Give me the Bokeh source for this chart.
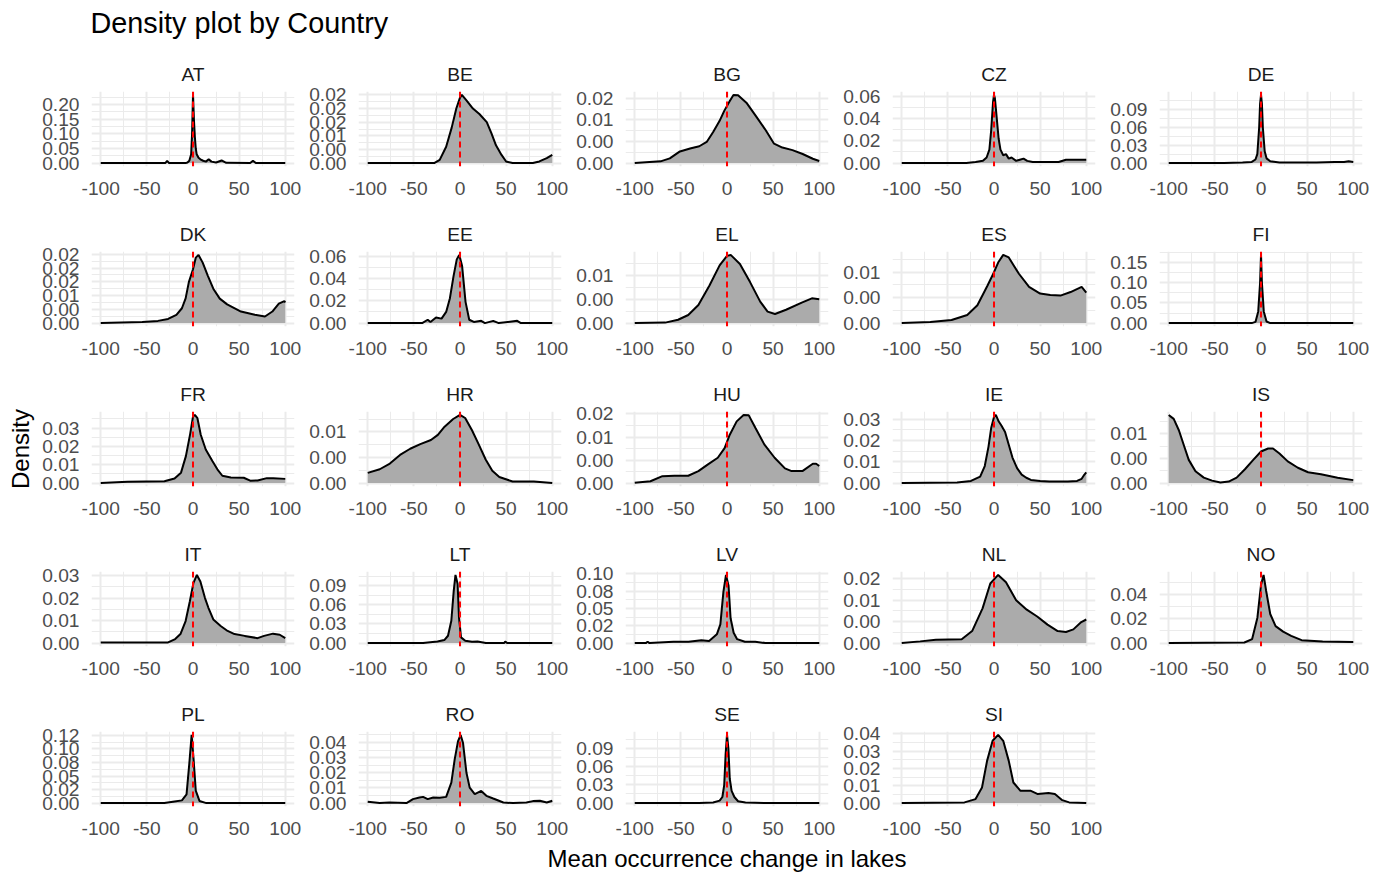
import math
from bokeh.plotting import figure
from bokeh.layouts import column, row
from bokeh.models import Range1d, FixedTicker, Span
from bokeh.core.properties import value
from bokeh.embed import file_html
from bokeh.resources import INLINE

# ---------------- data ----------------
countries = ["AT", "BE", "BG", "CZ", "DE", "DK", "EE", "EL", "ES", "FI", "FR", "HR",
             "HU", "IE", "IS", "IT", "LT", "LV", "NL", "NO", "PL", "RO", "SE", "SI"]

x_ticks = [-100, -50, 0, 50, 100]
x_labels = ["-100", "-50", "0", "50", "100"]
x_minor = [-75, -25, 25, 75]

AT_x = [-100, -30, -28, -26, -8, -6, -4, -2, -1, 0, 1, 2, 3, 4, 6, 8, 11, 14, 17, 20, 25, 31, 36, 62, 65, 68, 100]
AT_y = [0.000, 0.000, 0.008, 0.000, 0.000, 0.002, 0.008, 0.030, 0.100, 0.233, 0.150, 0.090, 0.050, 0.030, 0.018, 0.013, 0.008, 0.005, 0.013, 0.005, 0.002, 0.009, 0.001, 0.000, 0.008, 0.000, 0.000]
AT_yticks = [0.00, 0.05, 0.10, 0.15, 0.20]
AT_ylabels = ["0.00", "0.05", "0.10", "0.15", "0.20"]

BE_x = [-100, -28, -22, -15, -9, -4, 0, 2, 7, 14, 21, 29, 34, 39, 45, 50, 57, 79, 86, 94, 100]
BE_y = [0.0000, 0.0000, 0.0012, 0.0060, 0.0130, 0.0200, 0.0240, 0.0250, 0.0230, 0.0200, 0.0180, 0.0150, 0.0110, 0.0065, 0.0030, 0.0006, 0.0000, 0.0000, 0.0006, 0.0018, 0.0030]
BE_yticks = [0.000, 0.005, 0.010, 0.015, 0.020, 0.025]
BE_ylabels = ["0.00", "0.00", "0.01", "0.02", "0.02", "0.02"]

BG_x = [-100, -72, -62, -51, -40, -30, -22, -15, -8, -3, 3, 7, 12, 21, 31, 42, 51, 60, 71, 82, 93, 100]
BG_y = [0.0000, 0.0004, 0.0011, 0.0027, 0.0034, 0.0039, 0.0049, 0.0072, 0.0098, 0.0121, 0.0144, 0.0158, 0.0157, 0.0140, 0.0110, 0.0076, 0.0045, 0.0036, 0.0030, 0.0021, 0.0010, 0.0005]
BG_yticks = [0.000, 0.005, 0.010, 0.015]
BG_ylabels = ["0.00", "0.00", "0.01", "0.02"]

CZ_x = [-100, -30, -20, -12, -8, -5, -3, -1, 0, 1, 3, 5, 7, 10, 13, 16, 19, 24, 28, 32, 36, 42, 50, 70, 78, 85, 100]
CZ_y = [0.000, 0.000, 0.001, 0.002, 0.005, 0.012, 0.030, 0.055, 0.061, 0.058, 0.040, 0.022, 0.012, 0.007, 0.008, 0.004, 0.005, 0.002, 0.003, 0.004, 0.002, 0.001, 0.001, 0.001, 0.003, 0.003, 0.003]
CZ_yticks = [0.00, 0.02, 0.04, 0.06]
CZ_ylabels = ["0.00", "0.02", "0.04", "0.06"]

DE_x = [-100, -40, -20, -10, -6, -4, -2, -1, 0, 1, 2, 4, 6, 10, 20, 40, 60, 80, 90, 95, 100]
DE_y = [0.000, 0.000, 0.001, 0.002, 0.006, 0.015, 0.060, 0.100, 0.115, 0.100, 0.060, 0.020, 0.008, 0.003, 0.001, 0.001, 0.001, 0.002, 0.002, 0.003, 0.002]
DE_yticks = [0.00, 0.03, 0.06, 0.09]
DE_ylabels = ["0.00", "0.03", "0.06", "0.09"]

DK_x = [-100, -55, -38, -27, -18, -12, -8, -4.5, 0, 3, 6, 10.5, 16, 22, 29, 37, 52, 67, 78, 86, 93, 99, 100]
DK_y = [0.0000, 0.0004, 0.0008, 0.0015, 0.0030, 0.0054, 0.0090, 0.0149, 0.0196, 0.0238, 0.0248, 0.0220, 0.0173, 0.0125, 0.0089, 0.0068, 0.0042, 0.0030, 0.0024, 0.0042, 0.0071, 0.0080, 0.0075]
DK_yticks = [0.000, 0.005, 0.010, 0.015, 0.020, 0.025]
DK_ylabels = ["0.00", "0.00", "0.01", "0.02", "0.02", "0.02"]

EE_x = [-100, -41, -35, -32, -26, -20, -15, -11, -7, -3.5, -0.8, 2.3, 6, 10, 15, 23, 27, 36, 42, 62, 66, 100]
EE_y = [0.000, 0.000, 0.003, 0.001, 0.005, 0.004, 0.010, 0.022, 0.042, 0.057, 0.061, 0.051, 0.019, 0.003, 0.001, 0.002, 0.000, 0.002, 0.000, 0.002, 0.000, 0.000]
EE_yticks = [0.00, 0.02, 0.04, 0.06]
EE_ylabels = ["0.00", "0.02", "0.04", "0.06"]

EL_x = [-100, -67, -53, -42, -31, -19, -8, 0, 4, 14, 25, 36, 44, 52, 64, 81, 92, 100]
EL_y = [0.0000, 0.0001, 0.0007, 0.0017, 0.0038, 0.0079, 0.0121, 0.0141, 0.0143, 0.0124, 0.0086, 0.0045, 0.0024, 0.0019, 0.0028, 0.0043, 0.0052, 0.0050]
EL_yticks = [0.000, 0.005, 0.010]
EL_ylabels = ["0.00", "0.00", "0.01"]

ES_x = [-100, -69, -46, -29, -18, -7, 0, 4.5, 10, 16, 27, 38, 50, 61, 72, 83, 95, 100]
ES_y = [0.0000, 0.0002, 0.0006, 0.0016, 0.0035, 0.0074, 0.0100, 0.0119, 0.0134, 0.0129, 0.0097, 0.0071, 0.0058, 0.0055, 0.0054, 0.0061, 0.0071, 0.0060]
ES_yticks = [0.000, 0.005, 0.010]
ES_ylabels = ["0.00", "0.00", "0.01"]

FI_x = [-100, -10, -6, -3, -1, 0, 1, 3, 6, 10, 100]
FI_y = [0.000, 0.000, 0.003, 0.029, 0.100, 0.169, 0.100, 0.029, 0.004, 0.000, 0.000]
FI_yticks = [0.00, 0.05, 0.10, 0.15]
FI_ylabels = ["0.00", "0.05", "0.10", "0.15"]

FR_x = [-100, -71, -31, -20, -13, -7.7, -3, 0, 2, 4.8, 8.4, 13.8, 21, 26.4, 31.8, 41, 55, 62, 70, 80, 87, 100]
FR_y = [0.0000, 0.0007, 0.0010, 0.0025, 0.0057, 0.0147, 0.0270, 0.0363, 0.0372, 0.0354, 0.0264, 0.0183, 0.0120, 0.0075, 0.0040, 0.0030, 0.0029, 0.0013, 0.0014, 0.0027, 0.0027, 0.0023]
FR_yticks = [0.00, 0.01, 0.02, 0.03]
FR_ylabels = ["0.00", "0.01", "0.02", "0.03"]

HR_x = [-100, -87, -76, -65, -54, -43, -31.5, -24, -16.7, -7.4, 0, 5.6, 13, 20.4, 27.8, 35, 42.6, 57, 80, 100]
HR_y = [0.0020, 0.0027, 0.0038, 0.0055, 0.0067, 0.0076, 0.0084, 0.0094, 0.0110, 0.0125, 0.0133, 0.0127, 0.0103, 0.0075, 0.0046, 0.0024, 0.0012, 0.0003, 0.0003, 0.0000]
HR_yticks = [0.000, 0.005, 0.010]
HR_ylabels = ["0.00", "0.00", "0.01"]

HU_x = [-100, -83, -70, -57, -42, -31, -21, -10, -2.6, 3, 10.5, 18, 23.6, 31, 40.4, 51.6, 62.8, 70, 81.7, 93, 96.6, 100]
HU_y = [0.0001, 0.0004, 0.0015, 0.0016, 0.0016, 0.0026, 0.0040, 0.0055, 0.0076, 0.0105, 0.0134, 0.0148, 0.0147, 0.0119, 0.0084, 0.0055, 0.0032, 0.0026, 0.0026, 0.0042, 0.0042, 0.0037]
HU_yticks = [0.000, 0.005, 0.010, 0.015]
HU_ylabels = ["0.00", "0.00", "0.01", "0.02"]

IE_x = [-100, -40, -25, -15, -10, -6, -3, 0, 2, 5, 8, 12, 16, 20, 25, 30, 35, 40, 50, 60, 70, 80, 90, 95, 98, 100]
IE_y = [0.0000, 0.0003, 0.0010, 0.0030, 0.0080, 0.0170, 0.0260, 0.0310, 0.0320, 0.0290, 0.0270, 0.0240, 0.0180, 0.0120, 0.0070, 0.0040, 0.0025, 0.0015, 0.0010, 0.0008, 0.0008, 0.0008, 0.0010, 0.0020, 0.0040, 0.0050]
IE_yticks = [0.00, 0.01, 0.02, 0.03]
IE_ylabels = ["0.00", "0.01", "0.02", "0.03"]

IS_x = [-100, -94.6, -89, -83.7, -78.3, -71, -62, -53, -44, -35, -26.4, -17.4, -8.4, 0, 7.7, 13, 20, 29, 40, 51, 65, 83, 100]
IS_y = [0.0138, 0.0130, 0.0107, 0.0077, 0.0047, 0.0024, 0.0011, 0.0005, 0.0001, 0.0003, 0.0011, 0.0028, 0.0047, 0.0064, 0.0070, 0.0070, 0.0060, 0.0044, 0.0031, 0.0022, 0.0018, 0.0011, 0.0006]
IS_yticks = [0.000, 0.005, 0.010]
IS_ylabels = ["0.00", "0.00", "0.01"]

IT_x = [-100, -27, -19.3, -13.6, -8, -3.4, 0.4, 4.2, 8, 13, 16.7, 22, 30, 37.5, 45, 56, 70, 77, 86.7, 94, 100]
IT_y = [0.0003, 0.0003, 0.0018, 0.0040, 0.0098, 0.0186, 0.0266, 0.0303, 0.0274, 0.0200, 0.0157, 0.0105, 0.0076, 0.0054, 0.0040, 0.0032, 0.0022, 0.0032, 0.0042, 0.0037, 0.0022]
IT_yticks = [0.00, 0.01, 0.02, 0.03]
IT_ylabels = ["0.00", "0.01", "0.02", "0.03"]

LT_x = [-100, -40, -24.5, -17, -13, -9.4, -6.8, -4.9, -2.6, -1.1, 1.1, 5.7, 13, 19, 28, 48, 49, 51, 100]
LT_y = [0.000, 0.000, 0.0026, 0.0047, 0.0115, 0.035, 0.082, 0.107, 0.093, 0.040, 0.009, 0.0037, 0.002, 0.0025, 0.000, 0.000, 0.0026, 0.000, 0.000]
LT_yticks = [0.00, 0.03, 0.06, 0.09]
LT_ylabels = ["0.00", "0.03", "0.06", "0.09"]

LV_x = [-100, -88, -86, -84, -58, -41.7, -27.8, -19.4, -11, -7.2, -3.9, -1.1, 1.7, 3.9, 7.2, 11, 19.4, 30.6, 41.7, 100]
LV_y = [0.000, 0.000, 0.002, 0.000, 0.002, 0.002, 0.004, 0.003, 0.0127, 0.027, 0.074, 0.0986, 0.083, 0.036, 0.015, 0.0057, 0.002, 0.002, 0.000, 0.000]
LV_yticks = [0.000, 0.025, 0.050, 0.075, 0.100]
LV_ylabels = ["0.00", "0.02", "0.05", "0.08", "0.10"]

NL_x = [-100, -80, -63, -35, -23.7, -12.4, -4, 4.5, 13, 24, 35.5, 46.8, 58, 69, 78, 86, 94.6, 100]
NL_y = [0.0000, 0.0004, 0.0008, 0.0009, 0.0028, 0.0081, 0.0139, 0.0159, 0.0142, 0.0100, 0.0078, 0.0062, 0.0043, 0.0028, 0.0026, 0.0032, 0.0049, 0.0055]
NL_yticks = [0.000, 0.005, 0.010, 0.015]
NL_ylabels = ["0.00", "0.00", "0.01", "0.02"]

NO_x = [-100, -18, -9.6, -3.9, 0, 2.8, 5.6, 10, 15.8, 24, 32.7, 44, 66.8, 100]
NO_y = [0.0000, 0.0005, 0.0033, 0.0210, 0.0480, 0.0563, 0.0430, 0.0240, 0.0140, 0.0095, 0.0060, 0.0024, 0.0014, 0.0008]
NO_yticks = [0.00, 0.02, 0.04]
NO_ylabels = ["0.00", "0.02", "0.04"]

PL_x = [-100, -31, -20, -12, -7, -3.8, -1.5, 0.8, 3, 7, 14.5, 100]
PL_y = [0.000, 0.000, 0.003, 0.005, 0.016, 0.077, 0.126, 0.077, 0.023, 0.004, 0.000, 0.000]
PL_yticks = [0.000, 0.025, 0.050, 0.075, 0.100, 0.125]
PL_ylabels = ["0.00", "0.02", "0.05", "0.08", "0.10", "0.12"]

RO_x = [-100, -87, -76.5, -58, -51, -44, -40, -35, -29, -22, -15, -9.4, -5.8, -2.2, 0.7, 3.3, 7, 10.5, 16, 23, 28.6, 36, 47, 57.6, 72, 79, 86.6, 94, 100]
RO_y = [0.0009, 0.0000, 0.0004, 0.0000, 0.0026, 0.0037, 0.0041, 0.0026, 0.0037, 0.0035, 0.0041, 0.0135, 0.0287, 0.0407, 0.0450, 0.0396, 0.0200, 0.0102, 0.0059, 0.0080, 0.0048, 0.0030, 0.0004, 0.0000, 0.0004, 0.0013, 0.0015, 0.0004, 0.0015]
RO_yticks = [0.00, 0.01, 0.02, 0.03, 0.04]
RO_ylabels = ["0.00", "0.01", "0.02", "0.03", "0.04"]

SE_x = [-100, -30, -15, -8, -5, -3, -1.5, 0, 1.5, 3, 5, 8, 12, 20, 40, 100]
SE_y = [0.000, 0.000, 0.001, 0.004, 0.010, 0.030, 0.080, 0.112, 0.090, 0.040, 0.020, 0.010, 0.003, 0.001, 0.000, 0.000]
SE_yticks = [0.00, 0.03, 0.06, 0.09]
SE_ylabels = ["0.00", "0.03", "0.06", "0.09"]

SI_x = [-100, -32, -20, -13, -7.5, -1.5, 4.5, 10, 16, 21, 28.7, 40, 47.5, 59, 66, 74, 81.5, 100]
SI_y = [0.0000, 0.0004, 0.0023, 0.0090, 0.0244, 0.0360, 0.0394, 0.0360, 0.0244, 0.0119, 0.0071, 0.0071, 0.0052, 0.0058, 0.0052, 0.0017, 0.0004, 0.0000]
SI_yticks = [0.00, 0.01, 0.02, 0.03, 0.04]
SI_ylabels = ["0.00", "0.01", "0.02", "0.03", "0.04"]

panel_data = {
    "AT": (AT_x, AT_y, AT_yticks, AT_ylabels), "BE": (BE_x, BE_y, BE_yticks, BE_ylabels),
    "BG": (BG_x, BG_y, BG_yticks, BG_ylabels), "CZ": (CZ_x, CZ_y, CZ_yticks, CZ_ylabels),
    "DE": (DE_x, DE_y, DE_yticks, DE_ylabels), "DK": (DK_x, DK_y, DK_yticks, DK_ylabels),
    "EE": (EE_x, EE_y, EE_yticks, EE_ylabels), "EL": (EL_x, EL_y, EL_yticks, EL_ylabels),
    "ES": (ES_x, ES_y, ES_yticks, ES_ylabels), "FI": (FI_x, FI_y, FI_yticks, FI_ylabels),
    "FR": (FR_x, FR_y, FR_yticks, FR_ylabels), "HR": (HR_x, HR_y, HR_yticks, HR_ylabels),
    "HU": (HU_x, HU_y, HU_yticks, HU_ylabels), "IE": (IE_x, IE_y, IE_yticks, IE_ylabels),
    "IS": (IS_x, IS_y, IS_yticks, IS_ylabels), "IT": (IT_x, IT_y, IT_yticks, IT_ylabels),
    "LT": (LT_x, LT_y, LT_yticks, LT_ylabels), "LV": (LV_x, LV_y, LV_yticks, LV_ylabels),
    "NL": (NL_x, NL_y, NL_yticks, NL_ylabels), "NO": (NO_x, NO_y, NO_yticks, NO_ylabels),
    "PL": (PL_x, PL_y, PL_yticks, PL_ylabels), "RO": (RO_x, RO_y, RO_yticks, RO_ylabels),
    "SE": (SE_x, SE_y, SE_yticks, SE_ylabels), "SI": (SI_x, SI_y, SI_yticks, SI_ylabels),
}

# ---------------- layout / style constants ----------------
FONT = "Liberation Sans"
GRID_COLOR = "#EBEBEB"
FILL_COLOR = "#ABABAB"
COL_W, ROW_H = 267, 160
LEFT_B, RIGHT_B = 56, 8
TOP_B, BOT_B, BOT_B_LAST = 40, 45, 36
LABEL_W = 35
TITLE_H, XLAB_H = 51, 30
NCOL = 5


def make_panel(name, last_row):
    xs, ys, yticks, ylabels = panel_data[name]
    ymax = max(ys)
    bot = BOT_B_LAST if last_row else BOT_B
    p = figure(width=COL_W, height=TOP_B + 75 + bot,
               x_range=Range1d(-110, 110), y_range=Range1d(-0.05 * ymax, 1.05 * ymax),
               title=name, toolbar_location=None, output_backend="svg",
               min_border_left=LEFT_B, min_border_right=RIGHT_B,
               min_border_top=TOP_B, min_border_bottom=bot)
    p.title.align = "center"
    p.title.text_font = FONT
    p.title.text_font_style = "normal"
    p.title.text_font_size = "19.2px"
    p.title.text_color = "#1A1A1A"
    p.title.standoff = 13
    p.outline_line_color = None
    p.background_fill_color = "white"

    step = yticks[1] - yticks[0]
    yminor = [t + step / 2 for t in yticks]
    xt = FixedTicker(ticks=x_ticks, minor_ticks=x_minor)
    yt = FixedTicker(ticks=yticks, minor_ticks=yminor)
    p.xaxis.ticker = xt
    p.yaxis.ticker = yt
    p.xgrid.ticker = xt
    p.ygrid.ticker = yt
    p.xaxis.major_label_overrides = {t: l for t, l in zip(x_ticks, x_labels)}
    p.yaxis.major_label_overrides = {t: l for t, l in zip(yticks, ylabels)}

    for ax in (p.xaxis[0], p.yaxis[0]):
        ax.axis_line_color = None
        ax.major_tick_line_color = None
        ax.minor_tick_line_color = None
        ax.major_tick_out = 0
        ax.major_tick_in = 0
        ax.minor_tick_out = 0
        ax.minor_tick_in = 0
        ax.major_label_text_font = FONT
        ax.major_label_text_font_size = "19.2px"
        ax.major_label_text_color = "#4D4D4D"
    p.xaxis.major_label_standoff = 15
    p.yaxis.major_label_standoff = 12

    for g in (p.xgrid[0], p.ygrid[0]):
        g.grid_line_color = GRID_COLOR
        g.grid_line_width = 2
        g.minor_grid_line_color = GRID_COLOR
        g.minor_grid_line_width = 1

    p.varea(x=xs, y1=[0] * len(xs), y2=ys, fill_color=FILL_COLOR, fill_alpha=1.0)
    p.line(x=xs, y=ys, line_color="black", line_width=2)
    p.add_layout(Span(location=0, dimension="height", line_color="red",
                      line_width=2, line_dash="6 4"))
    return p


rows = []
nrows = math.ceil(len(countries) / NCOL)
for r in range(nrows):
    names = countries[r * NCOL:(r + 1) * NCOL]
    rows.append(row(*[make_panel(n, r == nrows - 1) for n in names]))
grid = column(*rows)

grid_h = (nrows - 1) * ROW_H + TOP_B + 75 + BOT_B_LAST
total_w = LABEL_W + NCOL * COL_W


def blank(w, h):
    f = figure(width=w, height=h, x_range=Range1d(0, w), y_range=Range1d(0, h),
               x_axis_type=None, y_axis_type=None, toolbar_location=None,
               output_backend="svg", min_border=0)
    f.grid.visible = False
    f.outline_line_color = None
    return f


title_fig = blank(total_w, TITLE_H)
title_fig.text(x=[90], y=[TITLE_H - 22], text=["Density plot by Country"],
               text_font=value(FONT), text_font_size="28.8px", text_color="black",
               text_align="left", text_baseline="middle")

ylab_fig = blank(LABEL_W, grid_h)
frames_center_from_top = (TOP_B + (nrows - 1) * ROW_H + TOP_B + 75) / 2
ylab_fig.text(x=[20], y=[grid_h - frames_center_from_top], text=["Density"],
              text_font=value(FONT), text_font_size="24px", text_color="black",
              text_align="center", text_baseline="middle", angle=math.pi / 2)

xlab_fig = blank(total_w, XLAB_H)
frames_center_x = LABEL_W + LEFT_B + (NCOL * COL_W - LEFT_B - RIGHT_B) / 2
xlab_fig.text(x=[frames_center_x], y=[XLAB_H - 16], text=["Mean occurrence change in lakes"],
              text_font=value(FONT), text_font_size="24px", text_color="black",
              text_align="center", text_baseline="middle")

layout = column(title_fig, row(ylab_fig, grid), xlab_fig)

open("out.html", "w").write(file_html(layout, INLINE))
